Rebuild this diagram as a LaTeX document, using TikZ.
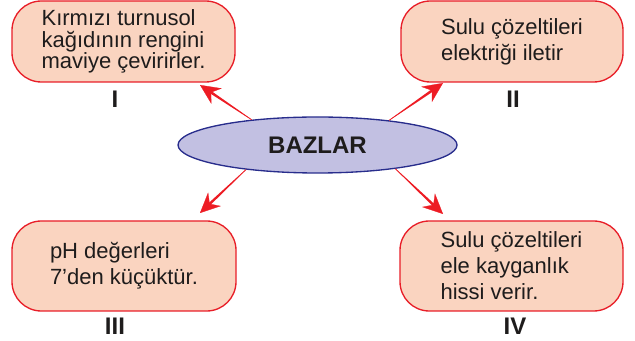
\documentclass[tikz,border=0pt]{standalone}
\usepackage{fontspec}
\setmainfont{Liberation Sans}
\usetikzlibrary{arrows.meta,calc,shapes.geometric}
\definecolor{boxfill}{RGB}{250,212,192}
\definecolor{boxline}{RGB}{232,30,40}
\definecolor{arrowred}{RGB}{237,28,36}
\definecolor{ellfill}{RGB}{194,192,226}
\definecolor{ellline}{RGB}{40,45,140}
\definecolor{txt}{RGB}{30,28,28}
\newcommand\taparrow[2]{%
  \fill[arrowred] ($(#1)!0.25pt!90:(#2)$) -- ($(#2)!9pt!(#1)!1pt!90:(#2)$)
     -- ($(#2)!9pt!(#1)!1pt!-90:(#2)$) -- ($(#1)!0.25pt!-90:(#2)$) -- cycle;
  \draw[arrowred, line width=0.2pt, -{Stealth[length=15pt,width=14pt,inset=5pt]}] (#1) -- (#2);}
\begin{document}
\begin{tikzpicture}[x=0.75pt,y=-0.75pt,
  bx/.style={draw=boxline, fill=boxfill, line width=1pt, rounded corners=22pt,
    align=left, inner sep=0pt, text=txt, font=\fontsize{16.5}{19.5}\selectfont},
  num/.style={anchor=base, text=txt, font=\fontsize{18}{20}\selectfont\bfseries, inner sep=0pt}]
\useasboundingbox (0,0) rectangle (635,341);
\node[bx, minimum width=167.25pt, minimum height=60.75pt, font=\fontsize{16.5}{16}\selectfont] (b1) at (123.5,41.5)
  {Kırmızı turnusol\\kağıdının rengini\\maviye çevirirler.};
\node[bx, minimum width=166.5pt, minimum height=60.75pt] (b2) at (512,41.5)
  {Sulu çözeltileri\\elektriği iletir};
\node[bx, minimum width=168pt, minimum height=67.5pt] (b3) at (124,266)
  {pH değerleri\\7’den küçüktür.};
\node[bx, minimum width=167.25pt, minimum height=67.5pt] (b4) at (511.5,266)
  {Sulu çözeltileri\\ele kayganlık\\hissi verir.};
\node[num] (n1) at (115,108) {I};
\node[num] (n2) at (513,108) {II};
\node[num] (n3) at (115,335) {III};
\node[num] (n4) at (515,335) {IV};
\node[ellipse, draw=ellline, fill=ellfill, line width=1pt, minimum width=209.25pt,
  minimum height=42pt, inner sep=0pt, text=txt, font=\fontsize{18}{20}\selectfont\bfseries] (e) at (317.5,145) {BAZLAR};
\coordinate (t1) at (200,85);
\coordinate (t2) at (443,83);
\coordinate (t3) at (200,213);
\coordinate (t4) at (443,214);
\taparrow{e.159}{t1}
\taparrow{e.19}{t2}
\taparrow{e.199}{t3}
\taparrow{e.343}{t4}
\end{tikzpicture}
\end{document}
